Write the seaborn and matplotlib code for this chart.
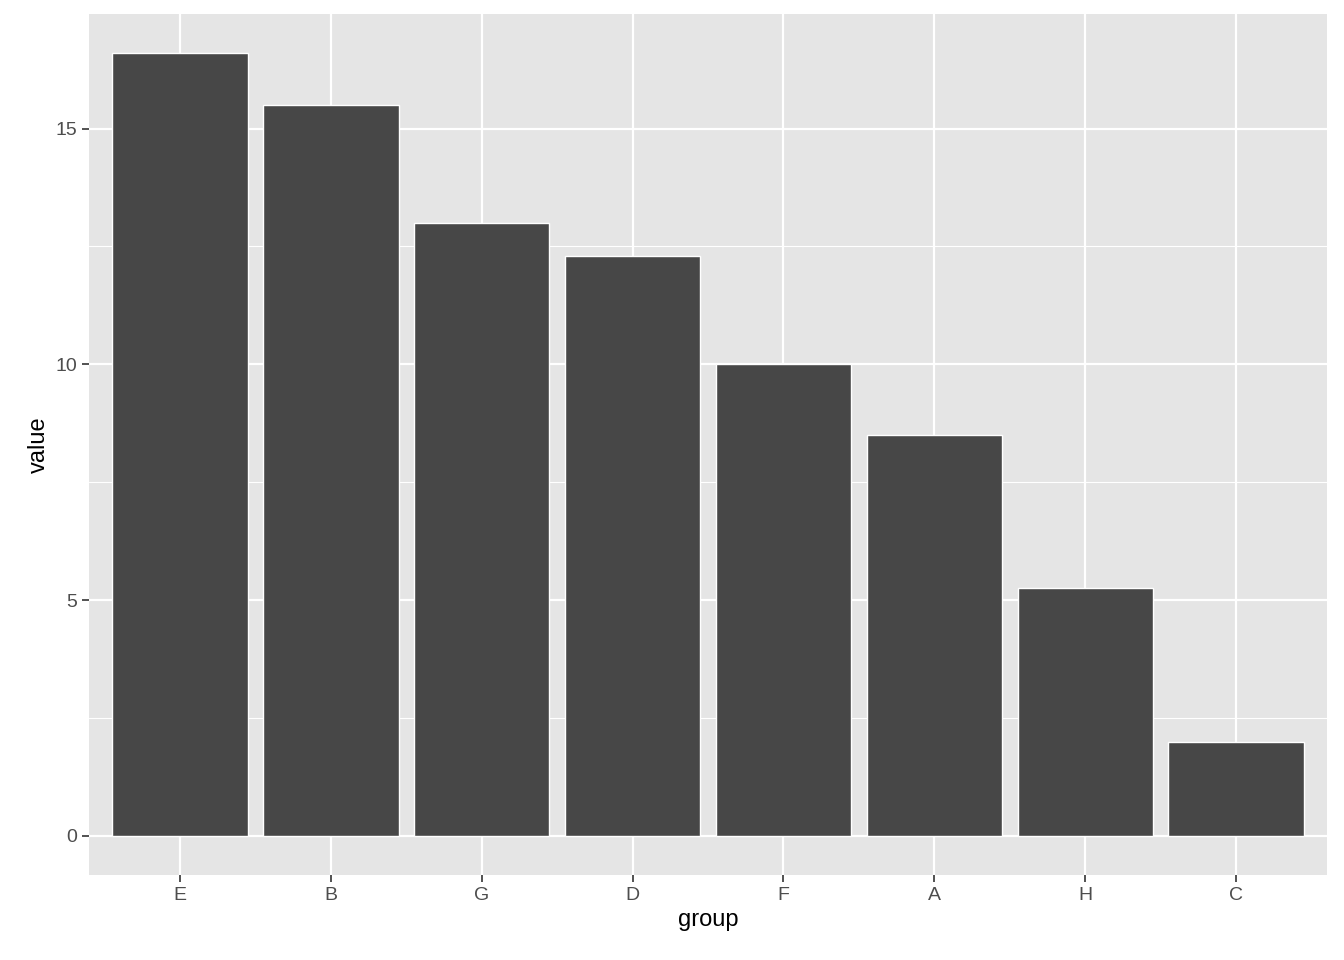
import matplotlib
matplotlib.use("Agg")
import matplotlib.pyplot as plt
import seaborn as sns
import pandas as pd

groups = ["E", "B", "G", "D", "F", "A", "H", "C"]
values = [16.6, 15.5, 13.0, 12.3, 10.0, 8.5, 5.25, 2.0]

df = pd.DataFrame({"group": groups, "value": values})

sns.set_theme(style="darkgrid", rc={
    "axes.facecolor": "#E5E5E5",
    "grid.color": "white",
    "axes.edgecolor": "white",
})
plt.rcParams["font.family"] = ["Liberation Sans", "DejaVu Sans"]

fig = plt.figure(figsize=(13.44, 9.6), dpi=100)
ax = fig.add_axes([89 / 1344, 1 - 875 / 960, (1327 - 89) / 1344, (875 - 14) / 960])

sns.barplot(data=df, x="group", y="value", order=groups, color="#474747",
            saturation=1, width=0.9, ax=ax)

ax.set_xlim(-0.6, len(groups) - 0.4)
ax.set_ylim(-0.83, 17.43)
ax.set_yticks([0, 5, 10, 15])
ax.set_yticks([2.5, 7.5, 12.5], minor=True)
ax.grid(which="major", color="white", linewidth=1.6)
ax.grid(which="minor", color="white", linewidth=0.8)
ax.set_axisbelow(True)
for s in ax.spines.values():
    s.set_visible(False)
ax.tick_params(axis="both", which="major", length=5, width=1.2, color="#333333",
               labelsize=14, labelcolor="#4D4D4D", left=True, bottom=True)
ax.tick_params(axis="both", which="minor", length=0)
ax.set_xlabel("group", fontsize=17, color="black")
ax.set_ylabel("value", fontsize=17, color="black")

fig.savefig("out.png", dpi=100)
